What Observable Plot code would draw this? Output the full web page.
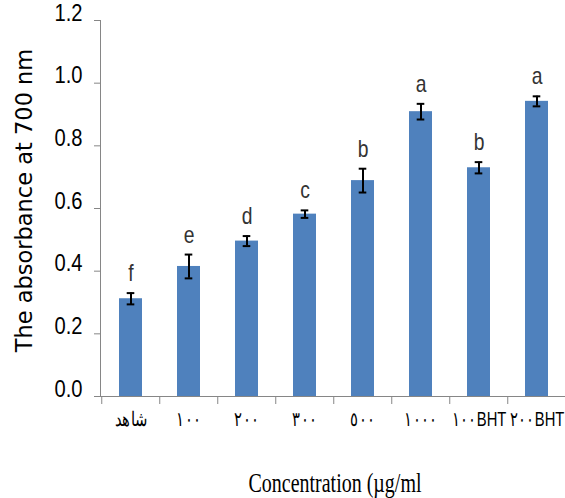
<!DOCTYPE html>
<html>
<head>
<meta charset="utf-8">
<script src="https://cdn.jsdelivr.net/npm/d3@7"></script>
<script src="https://cdn.jsdelivr.net/npm/@observablehq/plot@0.6"></script>
<style>
  html, body { margin: 0; padding: 0; background: #fff; overflow: hidden; }
</style>
</head>
<body>
<div id="chart"></div>
<script>
const categories = ["شاهد", "١٠٠", "٢٠٠", "٣٠٠", "٥٠٠", "١٠٠٠", "١٠٠BHT", "٢٠٠BHT"];
const absorbance = [0.312, 0.415, 0.496, 0.582, 0.689, 0.909, 0.730, 0.942];
const errors = [0.018, 0.038, 0.016, 0.012, 0.038, 0.025, 0.018, 0.016];
const letters = ["f", "e", "d", "c", "b", "a", "b", "a"];
const yTicks = [0, 0.2, 0.4, 0.6, 0.8, 1.0, 1.2];
const yTitle = "The absorbance at 700 nm";
const xTitle = "Concentration (µg/ml";

(function () {
const data = categories.map((c, i) => ({
  cat: c, v: absorbance[i], lo: absorbance[i] - errors[i], hi: absorbance[i] + errors[i], letter: letters[i]
}));

const W = 565, H = 498;
const mLeft = 100, xEnd = 568, mTop = 20, yBase = 396;
const step = (xEnd - mLeft) / categories.length;
const capInset = (step * 0.4 - 8) / 2;
const sans = "'Liberation Sans', Arial, sans-serif";
const fmt = d3.format(".1f");

const chart = Plot.plot({
  width: W,
  height: H,
  marginLeft: mLeft,
  marginRight: 0,
  marginTop: mTop,
  marginBottom: H - yBase,
  style: { background: "#fff", overflow: "visible" },
  x: { domain: categories, range: [mLeft, xEnd], paddingInner: 0.6, paddingOuter: 0.3, label: null },
  y: { domain: [0, 1.2], label: null },
  marks: [
    Plot.frame({ anchor: "left", stroke: "#868686" }),
    Plot.ruleY([0], { stroke: "#868686" }),
    Plot.axisY({ ticks: yTicks, tickSize: 6, tickPadding: 12, tickFormat: fmt,
      stroke: "#868686", fill: "#000", fontSize: 24, fontFamily: sans, label: null }),
    Plot.axisX({ tickSize: 8, text: null, dx: -step / 2, stroke: "#868686", label: null }),
    Plot.axisX({ tickSize: 0, tickPadding: 29, fill: "#000", fontSize: 20, fontFamily: sans, label: null }),
    Plot.barY(data, { x: "cat", y: "v", fill: "#4f81bd" }),
    Plot.ruleX(data, { x: "cat", y1: "lo", y2: "hi", stroke: "#000", strokeWidth: 2 }),
    Plot.tickY(data, { x: "cat", y: "lo", stroke: "#000", strokeWidth: 2, insetLeft: capInset, insetRight: capInset }),
    Plot.tickY(data, { x: "cat", y: "hi", stroke: "#000", strokeWidth: 2, insetLeft: capInset, insetRight: capInset }),
    Plot.text(data, { x: "cat", y: "hi", text: "letter", lineAnchor: "bottom", dy: -12,
      fill: "#333", fontSize: 23, fontFamily: sans }),
    Plot.text([yTitle], { frameAnchor: "left", rotate: -90, textAnchor: "middle", lineAnchor: "bottom",
      dx: 31.7 - mLeft, dy: -8, fill: "#000", fontSize: 22.5, fontFamily: "'DejaVu Sans', sans-serif" }),
    Plot.text([xTitle], { frameAnchor: "bottom", textAnchor: "middle", lineAnchor: "bottom",
      dy: 95.5, dx: 2, fill: "#000", fontSize: 27, fontFamily: "'Liberation Serif', 'Times New Roman', serif" })
  ]
});

document.getElementById("chart").appendChild(chart);

// horizontal condensing, as in the (stretched) reference image
function condense(t, s) {
  const x = +t.getAttribute("x") || 0, y = +t.getAttribute("y") || 0;
  const tr = t.getAttribute("transform") || "";
  t.removeAttribute("x"); t.removeAttribute("y");
  t.setAttribute("transform", `${tr} translate(${x},${y}) scale(${s},1)`);
}
const yLabels = new Set(yTicks.map(fmt));
const xLabels = new Set(categories);
const letterSet = new Set(letters);
const texts = Array.from(chart.querySelectorAll("text"));
let xs = 0.72;
const bht = texts.find(t => t.textContent === categories[6]);
if (bht && bht.getComputedTextLength) {
  const len = bht.getComputedTextLength();
  if (len > 0) xs = Math.min(1, 54 / len);
}
for (const t of texts) {
  const s = t.textContent;
  if (s === xTitle) condense(t, 0.74);
  else if (yLabels.has(s)) condense(t, 0.84);
  else if (xLabels.has(s)) condense(t, xs);
  else if (letterSet.has(s)) condense(t, 0.84);
}
})();
</script>
</body>
</html>
